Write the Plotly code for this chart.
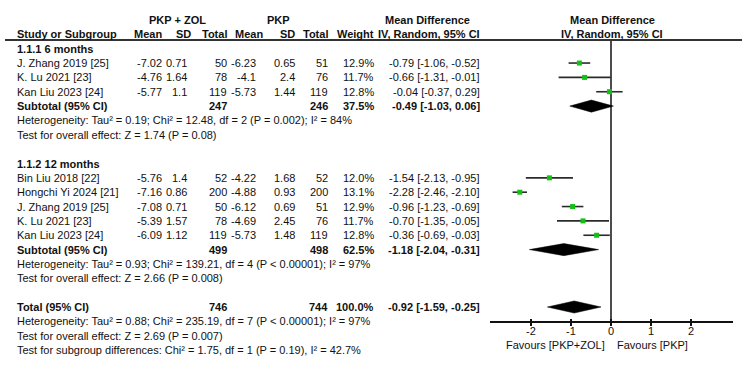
import plotly.graph_objects as go

# ---------------- data ----------------
sub6_title = "1.1.1 6 months"
sub6_studies = ["J. Zhang 2019 [25]", "K. Lu 2021 [23]", "Kan Liu 2023 [24]"]
sub6_exp_mean = [-7.02, -4.76, -5.77]
sub6_exp_sd = [0.71, 1.64, 1.1]
sub6_exp_n = [50, 78, 119]
sub6_ctl_mean = [-6.23, -4.1, -5.73]
sub6_ctl_sd = [0.65, 2.4, 1.44]
sub6_ctl_n = [51, 76, 119]
sub6_weight = [12.9, 11.7, 12.8]
sub6_md = [-0.79, -0.66, -0.04]
sub6_lo = [-1.06, -1.31, -0.37]
sub6_hi = [-0.52, -0.01, 0.29]
sub6_total = [247, 246, 37.5, -0.49, -1.03, 0.06]   # n_exp, n_ctl, weight, md, lo, hi
sub6_het = "Heterogeneity: Tau² = 0.19; Chi² = 12.48, df = 2 (P = 0.002); I² = 84%"
sub6_test = "Test for overall effect: Z = 1.74 (P = 0.08)"

sub12_title = "1.1.2 12 months"
sub12_studies = ["Bin Liu 2018 [22]", "Hongchi Yi 2024 [21]", "J. Zhang 2019 [25]",
                 "K. Lu 2021 [23]", "Kan Liu 2023 [24]"]
sub12_exp_mean = [-5.76, -7.16, -7.08, -5.39, -6.09]
sub12_exp_sd = [1.4, 0.86, 0.71, 1.57, 1.12]
sub12_exp_n = [52, 200, 50, 78, 119]
sub12_ctl_mean = [-4.22, -4.88, -6.12, -4.69, -5.73]
sub12_ctl_sd = [1.68, 0.93, 0.69, 2.45, 1.48]
sub12_ctl_n = [52, 200, 51, 76, 119]
sub12_weight = [12.0, 13.1, 12.9, 11.7, 12.8]
sub12_md = [-1.54, -2.28, -0.96, -0.70, -0.36]
sub12_lo = [-2.13, -2.46, -1.23, -1.35, -0.69]
sub12_hi = [-0.95, -2.10, -0.69, -0.05, -0.03]
sub12_total = [499, 498, 62.5, -1.18, -2.04, -0.31]
sub12_het = "Heterogeneity: Tau² = 0.93; Chi² = 139.21, df = 4 (P < 0.00001); I² = 97%"
sub12_test = "Test for overall effect: Z = 2.66 (P = 0.008)"

overall_total = [746, 744, 100.0, -0.92, -1.59, -0.25]
overall_het = "Heterogeneity: Tau² = 0.88; Chi² = 235.19, df = 7 (P < 0.00001); I² = 97%"
overall_test = "Test for overall effect: Z = 2.69 (P = 0.007)"
subgroup_test = "Test for subgroup differences: Chi² = 1.75, df = 1 (P = 0.19), I² = 42.7%"

group_labels = ["PKP + ZOL", "PKP"]
col_headers = ["Study or Subgroup", "Mean", "SD", "Total", "Mean", "SD", "Total", "Weight"]
effect_title = ["Mean Difference", "IV, Random, 95% CI"]
tick_vals = [-2, -1, 0, 1, 2]
favour_labels = ["Favours [PKP+ZOL]", "Favours [PKP]"]

# ---------------- layout helpers ----------------
W, H = 750, 372
ROW0, ROWH = 20.0, 14.35


def prow(p):
    return (p - ROW0) / ROWH


Y_TOP, Y_BOT = 40, 322
X_L, X_R, X0, UNIT = 490, 733, 611, 40.0

FONT = "Liberation Sans, Arial, sans-serif"
FS = 11
TXT = "#111111"

# column x positions (pixels) - right aligned unless noted
C_NAME = 16
C_M1, C_S1, C_N1 = 163, 188, 228
C_M2, C_S2, C_N2 = 257, 296, 329
C_W, C_CI = 375, 481

fig = go.Figure()
ann = []


def txt(x, row, s, anchor="right", bold=False):
    ann.append(dict(x=x / W, y=row, xref="paper", yref="y",
                    text=("<b>%s</b>" % s) if bold else s,
                    showarrow=False, xanchor=anchor, yanchor="middle",
                    font=dict(family=FONT, size=FS, color=TXT), borderpad=0))


def ci_str(md, lo, hi):
    return "%.2f [%.2f, %.2f]" % (md, lo, hi)


# headers
txt(177, 0, group_labels[0], "center", True)
txt(278, 0, group_labels[1], "center", True)
txt(427, 0, effect_title[0], "center", True)
txt(612, 0, effect_title[0], "center", True)
hx = [C_NAME, C_M1, C_S1 + 4, C_N1, C_M2 + 7, C_S2, C_N2, C_W]
for i, h in enumerate(col_headers):
    txt(hx[i], 1, h, "left" if i == 0 else "right", True)
txt(C_CI, 1, effect_title[1], "right", True)
txt(612, 1, effect_title[1], "center", True)


def add_total(r, label, tot):
    txt(C_NAME, r, label, "left", True)
    txt(C_N1, r, str(tot[0]), "right", True)
    txt(C_N2, r, str(tot[1]), "right", True)
    txt(C_W, r, "%.1f%%" % tot[2], "right", True)
    txt(C_CI, r, ci_str(tot[3], tot[4], tot[5]), "right", True)
    hh = 0.42
    fig.add_trace(go.Scatter(x=[tot[4], tot[3], tot[5], tot[3], tot[4]],
                             y=[r, r - hh, r, r + hh, r], mode="lines", fill="toself",
                             fillcolor="#000000", line=dict(color="#000000", width=0.5),
                             hoverinfo="skip", showlegend=False))


def add_group(title, title_row, studies, em, es, en, cm, cs, cn, w, md, lo, hi, tot, het, test):
    txt(C_NAME, title_row, title, "left", True)
    rows = [title_row + 1 + i for i in range(len(studies))]
    for i, r in enumerate(rows):
        txt(C_NAME, r, studies[i], "left")
        txt(C_M1, r, str(em[i]))
        txt(C_S1, r, str(es[i]))
        txt(C_N1, r, str(en[i]))
        txt(C_M2, r, str(cm[i]))
        txt(C_S2, r, str(cs[i]))
        txt(C_N2, r, str(cn[i]))
        txt(C_W, r, "%.1f%%" % w[i])
        txt(C_CI, r, ci_str(md[i], lo[i], hi[i]))
        fig.add_trace(go.Scatter(x=[lo[i], hi[i]], y=[r, r], mode="lines",
                                 line=dict(color="#2b2b2b", width=1.6),
                                 hoverinfo="skip", showlegend=False))
    fig.add_trace(go.Scatter(x=md, y=rows, mode="markers",
                             marker=dict(symbol="square", size=5, color="#14c014",
                                         line=dict(width=0)),
                             hoverinfo="skip", showlegend=False))
    srow = rows[-1] + 1
    add_total(srow, "Subtotal (95% CI)", tot)
    txt(C_NAME, srow + 1, het, "left")
    txt(C_NAME, srow + 2, test, "left")


add_group(sub6_title, 2, sub6_studies, sub6_exp_mean, sub6_exp_sd, sub6_exp_n,
          sub6_ctl_mean, sub6_ctl_sd, sub6_ctl_n, sub6_weight, sub6_md, sub6_lo, sub6_hi,
          sub6_total, sub6_het, sub6_test)
add_group(sub12_title, 10, sub12_studies, sub12_exp_mean, sub12_exp_sd, sub12_exp_n,
          sub12_ctl_mean, sub12_ctl_sd, sub12_ctl_n, sub12_weight, sub12_md, sub12_lo, sub12_hi,
          sub12_total, sub12_het, sub12_test)
add_total(20, "Total (95% CI)", overall_total)
txt(C_NAME, 21, overall_het, "left")
txt(C_NAME, 22, overall_test, "left")
txt(C_NAME, 23, subgroup_test, "left")

# favours labels
fy = prow(345)
txt(606, fy, favour_labels[0], "right")
txt(616, fy, favour_labels[1], "left")

# helper trace so the overlay tick axis exists
fig.add_trace(go.Scatter(x=[None], y=[None], xaxis="x3", yaxis="y", showlegend=False,
                         hoverinfo="skip"))

xr = [(X_L - X0) / UNIT, (X_R - X0) / UNIT]
xdom = [X_L / W, X_R / W]
axis_pos = 1 - Y_BOT / H
fig.update_layout(
    width=W, height=H, margin=dict(l=0, r=0, t=0, b=0),
    paper_bgcolor="white", plot_bgcolor="rgba(0,0,0,0)", showlegend=False,
    annotations=ann,
    shapes=[
        dict(type="line", xref="paper", yref="y", x0=5 / W, x1=742 / W,
             y0=prow(Y_TOP), y1=prow(Y_TOP), line=dict(color="#333333", width=2)),
        dict(type="line", xref="x", yref="y", x0=0, x1=0, y0=prow(Y_TOP), y1=prow(Y_BOT),
             line=dict(color="#111111", width=1.5), layer="below"),
    ],
    xaxis=dict(domain=xdom, range=xr, anchor="free", position=axis_pos, showgrid=False,
               zeroline=False, showline=True, linecolor="#111111", linewidth=1.5,
               ticks="outside", ticklen=3, tickwidth=1.5, tickcolor="#111111",
               ticklabelstandoff=-4,
               tickvals=tick_vals, ticktext=[str(v) for v in tick_vals],
               tickfont=dict(family=FONT, size=FS, color=TXT), fixedrange=True),
    xaxis3=dict(domain=xdom, range=xr, anchor="free", position=axis_pos, overlaying="x",
                showgrid=False, zeroline=False, showline=False, ticks="inside", ticklen=3,
                tickwidth=1.5, tickcolor="#111111", tickvals=tick_vals,
                showticklabels=False, fixedrange=True),
    yaxis=dict(domain=[0, 1], range=[prow(H), prow(0)], visible=False, fixedrange=True),
)

fig.write_html("out.html")
